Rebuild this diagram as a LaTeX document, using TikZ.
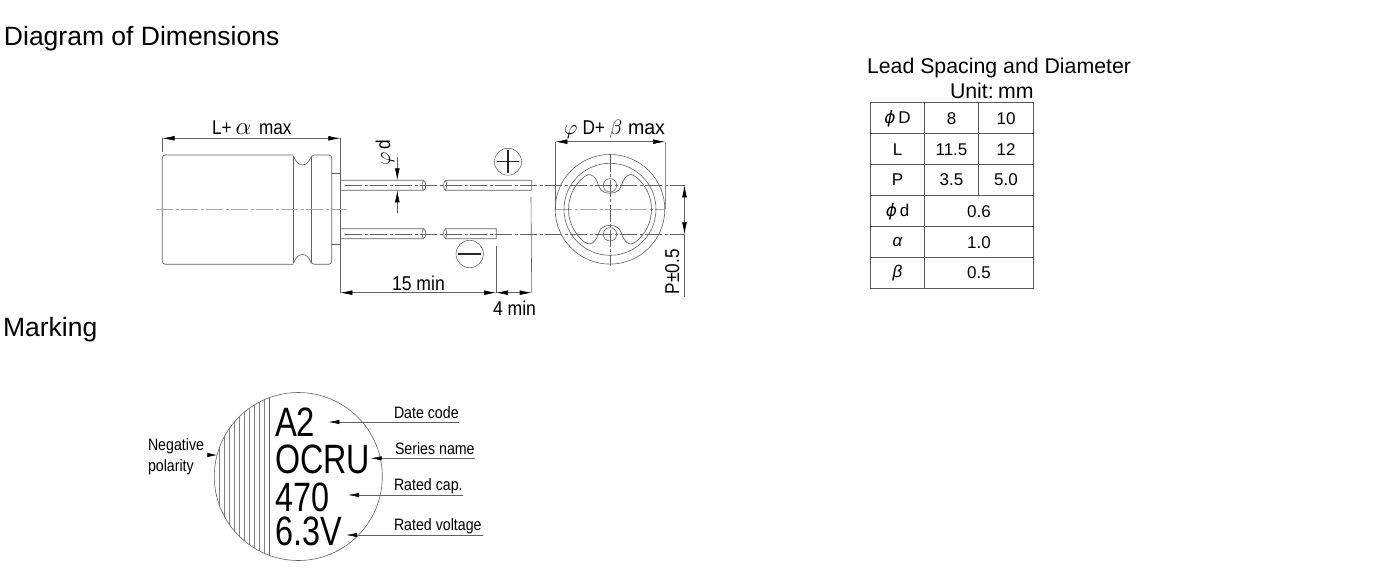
\documentclass[tikz,border=0pt]{standalone}
\usepackage{graphicx}
\usepackage{fontspec}
\setmainfont{Liberation Sans}
\newfontfamily\djv{DejaVu Sans}
\usetikzlibrary{arrows.meta}
\definecolor{ink}{gray}{0.38}
\definecolor{tabl}{gray}{0.35}
\newcommand{\fs}[1]{\fontsize{#1}{#1}\selectfont}
\newcommand{\nar}[2][0.86]{\scalebox{#1}[1]{#2}}
\newcommand{\sphi}{{\djv\itshape ϕ}}
\tikzset{
  x=1pt,y=-1pt,
  ln/.style={draw=ink,line width=0.65pt},
  dim/.style={draw=ink,line width=0.6pt},
  ctr/.style={draw=ink,line width=0.5pt,dash pattern=on 17pt off 2.5pt on 3pt off 2.5pt},
  ctrg/.style={draw=black!35,line width=0.9pt,dash pattern=on 17pt off 2.5pt on 3pt off 2.5pt},
  tipa/.style={-{Latex[length=12pt,width=4.8pt,black]}},
  tipr/.style={{Latex[length=12pt,width=4.8pt,black]}-},
  tipb/.style={{Latex[length=12pt,width=4.8pt,black]}-{Latex[length=12pt,width=4.8pt,black]}},
  tx/.style={inner sep=0pt,outer sep=0pt,anchor=base west,text=black},
  head/.style={tx,font=\fs{26.5}},
  cell/.style={inner sep=0pt,anchor=center,text=black,font=\fs{17}},
  big/.style={tx,font=\fs{41}},
  lab/.style={tx,font=\fs{16.5}},
  dl/.style={tx,font=\fs{20}},
}
\begin{document}
\begin{tikzpicture}
\useasboundingbox (0,0) rectangle (1382,574);
\fill[white] (0,0) rectangle (1382,574);
% headings
\node[head] (h1) at (4,45) {Diagram of Dimensions};
\node[head] (h2) at (3,336) {Marking};
\node[tx,font=\fs{21.3}] (h3) at (867,73) {Lead Spacing and Diameter};
\node[tx,font=\fs{21.3}] (h4) at (950,98) {Unit:\hspace{0.2em}mm};
% capacitor body
\draw[ln,rounded corners=3pt] (293.3,155) -- (162.3,155) -- (162.3,264.3) -- (293.3,264.3);
\draw[ln] (293.3,157) -- (293.3,262.5);
\draw[ln] (293.3,156) .. controls (296,162) and (299,165) .. (302.3,165) .. controls (306,165) and (309,162) .. (311.5,156);
\draw[ln] (293.3,263.5) .. controls (296,257) and (299,254.5) .. (302.3,254.5) .. controls (306,254.5) and (309,257) .. (311.5,263.5);
\draw[ln,rounded corners=3pt] (311.3,160) -- (311.3,155) -- (331.7,155) -- (331.7,264.3) -- (311.3,264.3) -- (311.3,259);
\draw[ln] (311.3,157) -- (311.3,262);
\draw[ln] (331.7,173.3) -- (340.3,173.3) -- (340.3,244.3) -- (331.7,244.3);
% leads
\foreach \yy/\xe in {180.3/531.7,228.7/496.3}{
  \draw[ln] (340.3,\yy) -- (423.5,\yy) .. controls (421.5,\yy+3) and (421.5,\yy+7) .. (423.5,\yy+10) -- (340.3,\yy+10);
  \draw[ln] (423.5,\yy) .. controls (426.5,\yy+1) and (426.5,\yy+9) .. (423.5,\yy+10);
  \draw[ln] (\xe,\yy) -- (445.5,\yy) .. controls (443,\yy+1) and (443,\yy+9) .. (445.5,\yy+10) -- (\xe,\yy+10) -- cycle;
  \draw[ln] (445.5,\yy) .. controls (447,\yy+3) and (447,\yy+7) .. (445.5,\yy+10);
}
% centre lines
\draw[ctr] (345,185.3) -- (685,185.3);
\draw[ctr] (345,234.3) -- (685,234.3);
\draw[ctrg] (156,209) -- (347,209);
\draw[ctr] (610,154.5) -- (610,266);
\draw[ctrg] (555,209.3) -- (665,209.3);
% L dimension
\coordinate (la) at (162.5,138.3);
\coordinate (lb) at (340.3,138.3);
\draw[dim,tipb] (la) -- (lb);
\draw[dim] (la) -- (162.5,152);
\draw[dim] (lb) -- (340.3,173);
\node[dl] (ll) at (212,134) {\nar{L+}};
\node[tx,font=\fs{24}] (la1) at (235.5,134) {$\alpha$};
\node[dl] (lm) at (259,134) {\nar{max}};
% phi d
\coordinate (da) at (397.3,157);
\coordinate (db) at (397.3,180.3);
\coordinate (dc) at (397.3,190.3);
\coordinate (dd) at (397.3,213);
\draw[dim,tipa] (da) -- (db);
\draw[dim,tipa] (dd) -- (dc);
\node[tx,font=\fs{22},rotate=90] (dph) at (390,165.5) {$\varphi$};
\node[tx,font=\fs{20},rotate=90] (dph2) at (390,149.5) {\nar{d}};
% plus and minus
\node[draw=ink,line width=0.55pt,circle,minimum size=27pt,inner sep=0pt] (plus) at (508,161.7) {};
\draw[draw=black!85,line width=1.1pt] (plus.center) ++(-11.3,0) -- ++(22.6,0) (plus.center) ++(0,-11.3) -- ++(0,22.6);
\node[draw=ink,line width=0.55pt,circle,minimum size=27.4pt,inner sep=0pt] (minus) at (469.7,254) {};
\draw[draw=black!85,line width=1.1pt] (minus.center) ++(-11.3,0) -- ++(22.6,0);
% bottom dimensions
\coordinate (ba) at (340.3,292.7);
\coordinate (bb) at (496,292.7);
\coordinate (bc) at (531.7,292.7);
\coordinate (bd) at (507.5,292.7);
\draw[dim] (340.3,244.3) -- (ba);
\draw[dim] (bb) -- (496,246);
\draw[dim] (bc) -- (531,197);
\draw[dim,tipb] (ba) -- (bb);
\draw[dim,tipr] (bb) -- (bd);
\draw[dim,tipa] (bd) -- (bc);
\node[dl] (m15) at (392,290) {\nar[0.88]{15 min}};
\node[dl] (m4) at (493,315) {\nar[0.88]{4 min}};
% end view
\node[draw=ink,line width=0.6pt,circle,minimum size=109.6pt,inner sep=0pt] (co) at (610,209.3) {};
\node[draw=ink,line width=0.6pt,circle,minimum size=92pt,inner sep=0pt] (cm) at (610,209.3) {};
\node[draw=ink,line width=0.55pt,circle,minimum size=13.4pt,inner sep=0pt] (st) at (610,185.3) {};
\node[draw=ink,line width=0.55pt,circle,minimum size=13.4pt,inner sep=0pt] (sb) at (610,234.3) {};
\foreach \ss in {1,-1}{
\begin{scope}[shift={(610,209.3)},yscale=\ss]
\draw[ln] (-41.5,0) arc[start angle=180,end angle=130,radius=41.5];
\draw[ln] (41.5,0) arc[start angle=0,end angle=50,radius=41.5];
\draw[ln] plot[smooth,tension=0.7] coordinates {(-26.7,-31.8) (-22,-34.5) (-17,-33.3) (-13,-28) (-9,-19.3) (0,-16) (9,-19.3) (13,-28) (17,-33.3) (22,-34.5) (26.7,-31.8)};
\end{scope}}
% D dimension
\coordinate (pa) at (555.3,141.7);
\coordinate (pb) at (665,141.7);
\draw[dim,tipb] (pa) -- (pb);
\draw[dim] (pa) -- (555.3,209);
\draw[draw=black!45,line width=0.6pt] (pb) -- (665,209);
\node[tx,font=\fs{22}] (dp) at (564,134) {$\varphi$};
\node[dl] (dd1) at (582.5,134) {\nar{D+}};
\node[tx,font=\fs{22}] (db1) at (609.5,134) {$\beta$};
\node[dl] (dm) at (628,134) {\nar[0.98]{max}};
% P dimension
\coordinate (qa) at (684.5,185.3);
\coordinate (qb) at (684.5,234.3);
\draw[dim,tipb] (qa) -- (qb);
\draw[dim] (qb) -- (684.5,297);
\node[dl,rotate=90] (pl) at (679,294) {\nar{P±0.5}};
% table
\begin{scope}[draw=tabl,line width=0.95pt]
\draw (870.7,102.7) rectangle (1033.3,288);
\foreach \yy in {133.3,164.7,195.3,226.7,257.3}{\draw (870.7,\yy) -- (1033.3,\yy);}
\draw (924.3,102.7) -- (924.3,288);
\draw (978.7,102.7) -- (978.7,195.3);
\end{scope}
\node[cell] (c11) at (897.5,118.5) {\sphi\,D};
\node[cell] (c12) at (951.5,118.5) {8};
\node[cell] (c13) at (1006,118.5) {10};
\node[cell] (c21) at (897.5,149.5) {L};
\node[cell] (c22) at (951.5,149.5) {11.5};
\node[cell] (c23) at (1006,149.5) {12};
\node[cell] (c31) at (897.5,180) {P};
\node[cell] (c32) at (951.5,180) {3.5};
\node[cell] (c33) at (1006,180) {5.0};
\node[cell] (c41) at (897.5,211.5) {\sphi\,d};
\node[cell] (c42) at (979,211.5) {0.6};
\node[cell] (c51) at (897.5,242.5) {\itshape α};
\node[cell] (c52) at (979,242.5) {1.0};
\node[cell] (c61) at (897.5,273) {\itshape β};
\node[cell] (c62) at (979,273) {0.5};
% marking
\begin{scope}
\clip (298.3,476.5) circle[radius=84];
\foreach \xx in {219,224,229,234,239,244,249,254,259,264}{\draw[draw=black!50,line width=0.55pt] (\xx,390) -- (\xx,565);}
\draw[draw=ink,line width=1pt] (269,390) -- (269,565);
\end{scope}
\node[draw=ink,line width=0.6pt,circle,minimum size=168pt,inner sep=0pt] (mk) at (298.3,476.5) {};
\node[big] (a2) at (275,436) {\nar[0.8]{A2}};
\node[big] (oc) at (275,473.3) {\nar[0.786]{OCRU}};
\node[big] (c470) at (275,511.7) {\nar[0.79]{470}};
\node[big] (v63) at (275,545.7) {\nar[0.79]{6.3V}};
\node[lab] (t1) at (394,418) {\nar{Date code}};
\node[lab] (t2) at (395,454) {\nar{Series name}};
\node[lab] (t3) at (394,490) {\nar{Rated cap.}};
\node[lab] (t4) at (394,530) {\nar{Rated voltage}};
\node[lab] (t5) at (148,450) {\nar{Negative}};
\node[lab] (t6) at (148,471) {\nar{polarity}};
\coordinate (e1) at (459,422); \coordinate (s1) at (328.3,422);
\coordinate (e2) at (475,458.3); \coordinate (s2) at (370.7,458.3);
\coordinate (e3) at (463.3,495); \coordinate (s3) at (348,495);
\coordinate (e4) at (483.3,535); \coordinate (s4) at (346,535);
\coordinate (e5) at (207,455); \coordinate (s5) at (217.3,455);
\foreach \k in {1,2,3,4}{\draw[dim,-{Latex[length=11pt,width=4.4pt,black]}] (e\k) -- (s\k);}
\draw[dim,-{Latex[length=10pt,width=4.4pt,black]}] (e5) -- (s5);
\end{tikzpicture}
\end{document}
